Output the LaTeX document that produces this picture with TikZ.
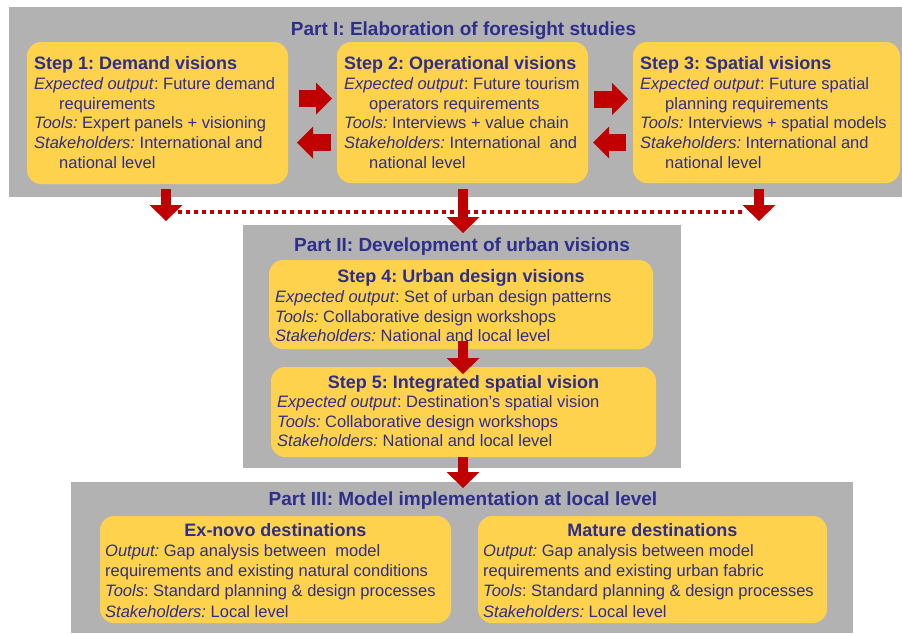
\documentclass[tikz,border=0pt]{standalone}
\usepackage{fontspec}
\setmainfont{Liberation Sans}
\usetikzlibrary{arrows.meta}
\definecolor{panelgrey}{RGB}{178,178,178}
\definecolor{boxyellow}{RGB}{255,210,77}
\definecolor{navy}{RGB}{46,46,140}
\definecolor{arrowred}{RGB}{192,0,0}
\newcommand{\fstrut}{\rule{0pt}{13pt}}
\newcommand{\ind}{\hspace*{25pt}}
\frenchspacing
\begin{document}
\begin{tikzpicture}[x=1pt,y=-1pt,
  panel/.style={fill=panelgrey, draw=none, anchor=north west, inner sep=0pt, outer sep=0pt},
  ybox/.style={fill=boxyellow, draw=none, rounded corners=14pt, anchor=north west, inner sep=0pt, outer sep=0pt},
  parttitle/.style={anchor=base, inner sep=0pt, text=navy, font=\frenchspacing\fontsize{19}{22}\selectfont\bfseries},
  steptitle/.style={inner sep=0pt, text=navy, font=\frenchspacing\fontsize{18}{20}\selectfont\bfseries},
  body/.style={anchor=north west, inner sep=0pt, align=left, text=navy, font=\frenchspacing\fontsize{16.5}{19.8}\selectfont},
  bodythree/.style={anchor=north west, inner sep=0pt, align=left, text=navy, font=\frenchspacing\fontsize{16.5}{20.3}\selectfont},
  harrow/.style={draw=arrowred, line width=17pt, -{Triangle[width=32pt,length=16pt,line width=0pt]}},
  varrow/.style={draw=arrowred, line width=10pt, -{Triangle[width=33pt,length=16pt,line width=0pt]}},
  dotline/.style={draw=arrowred, line width=3.5pt, dash pattern=on 4pt off 4pt}
]
\useasboundingbox (0,0) rectangle (902,633);
\fill[white] (0,0) rectangle (902,633);

% panels
\node[panel, minimum width=893pt, minimum height=190pt] (p1) at (9,7) {};
\node[panel, minimum width=438pt, minimum height=243pt] (p2) at (243,225) {};
\node[panel, minimum width=782pt, minimum height=151pt] (p3) at (71,482) {};

% yellow boxes
\node[ybox, minimum width=261pt, minimum height=142pt] (s1) at (27,42) {};
\node[ybox, minimum width=251pt, minimum height=141pt] (s2) at (337,42) {};
\node[ybox, minimum width=267pt, minimum height=141pt] (s3) at (633,42) {};
\node[ybox, minimum width=384pt, minimum height=89pt] (s4) at (269,260) {};
\node[ybox, minimum width=385pt, minimum height=90pt] (s5) at (271,367) {};
\node[ybox, minimum width=351pt, minimum height=107pt] (s6) at (100,516) {};
\node[ybox, minimum width=349pt, minimum height=107pt] (s7) at (478,516) {};

% part titles
\node[parttitle] (t1) at (463.5,35) {Part I: Elaboration of foresight studies};
\node[parttitle] (t2) at (462,251) {Part II: Development of urban visions};
\node[parttitle] (t3) at (463,505) {Part III: Model implementation at local level};

% step 1
\node[steptitle, anchor=base west] (h1) at (34,69.5) {Step 1: Demand visions};
\node[body] (b1) at (34,76) {\fstrut\textit{Expected output}: Future demand\\
\ind requirements\\
\textit{Tools:} Expert panels + visioning\\
\textit{Stakeholders:} International and\\
\ind national level};

% step 2
\node[steptitle, anchor=base west] (h2) at (344,69.5) {Step 2: Operational visions};
\node[body] (b2) at (344,76) {\fstrut\textit{Expected output}: Future tourism\\
\ind operators requirements\\
\textit{Tools:} Interviews + value chain\\
\textit{Stakeholders:} International\ \ and\\
\ind national level};

% step 3
\node[steptitle, anchor=base west] (h3) at (640,69.5) {Step 3: Spatial visions};
\node[body] (b3) at (640,76) {\fstrut\textit{Expected output}: Future spatial\\
\ind planning requirements\\
\textit{Tools:} Interviews + spatial models\\
\textit{Stakeholders:} International and\\
\ind national level};

% step 4
\node[steptitle, anchor=base] (h4) at (461,282.5) {Step 4: Urban design visions};
\node[body] (b4) at (275,289) {\fstrut\textit{Expected output}: Set of urban design patterns\\
\textit{Tools:} Collaborative design workshops\\
\textit{Stakeholders:} National and local level};

% step 5
\node[steptitle, anchor=base] (h5) at (463.5,388.5) {Step 5: Integrated spatial vision};
\node[body] (b5) at (277,394) {\fstrut\textit{Expected output}: Destination’s spatial vision\\
\textit{Tools:} Collaborative design workshops\\
\textit{Stakeholders:} National and local level};

% part III boxes
\node[steptitle, anchor=base] (h6) at (275.5,536.5) {Ex-novo destinations};
\node[bodythree] (b6) at (105,543) {\fstrut\textit{Output:} Gap analysis between\ \ model\\
requirements and existing natural conditions\\
\textit{Tools}: Standard planning \& design processes\\
\textit{Stakeholders:} Local level};

\node[steptitle, anchor=base] (h7) at (652.5,536.5) {Mature destinations};
\node[bodythree] (b7) at (483,543) {\fstrut\textit{Output:} Gap analysis between model\\
requirements and existing urban fabric\\
\textit{Tools}: Standard planning \& design processes\\
\textit{Stakeholders:} Local level};

% arrow end points
\coordinate (a12s) at (299,98.5);  \coordinate (a12e) at (332,98.5);
\coordinate (a21s) at (331,142.5); \coordinate (a21e) at (297,142.5);
\coordinate (a23s) at (594,99);    \coordinate (a23e) at (628,99);
\coordinate (a32s) at (626,142.5); \coordinate (a32e) at (593,142.5);
\coordinate (d1s) at (166,189);    \coordinate (d1e) at (166,221);
\coordinate (d2s) at (463,189);    \coordinate (d2e) at (463,233);
\coordinate (d3s) at (759,189);    \coordinate (d3e) at (759,221);
\coordinate (d45s) at (463,341);   \coordinate (d45e) at (463,374);
\coordinate (d5s) at (463,457);    \coordinate (d5e) at (463,488);
\coordinate (dotl) at (178,212);   \coordinate (dotr) at (745,212);

% dotted line
\draw[dotline] (dotl) -- (dotr);

% arrows
\draw[harrow] (a12s) -- (a12e);
\draw[harrow] (a21s) -- (a21e);
\draw[harrow] (a23s) -- (a23e);
\draw[harrow] (a32s) -- (a32e);
\draw[varrow] (d1s) -- (d1e);
\draw[varrow] (d2s) -- (d2e);
\draw[varrow] (d3s) -- (d3e);
\draw[varrow] (d45s) -- (d45e);
\draw[varrow] (d5s) -- (d5e);
\end{tikzpicture}
\end{document}
